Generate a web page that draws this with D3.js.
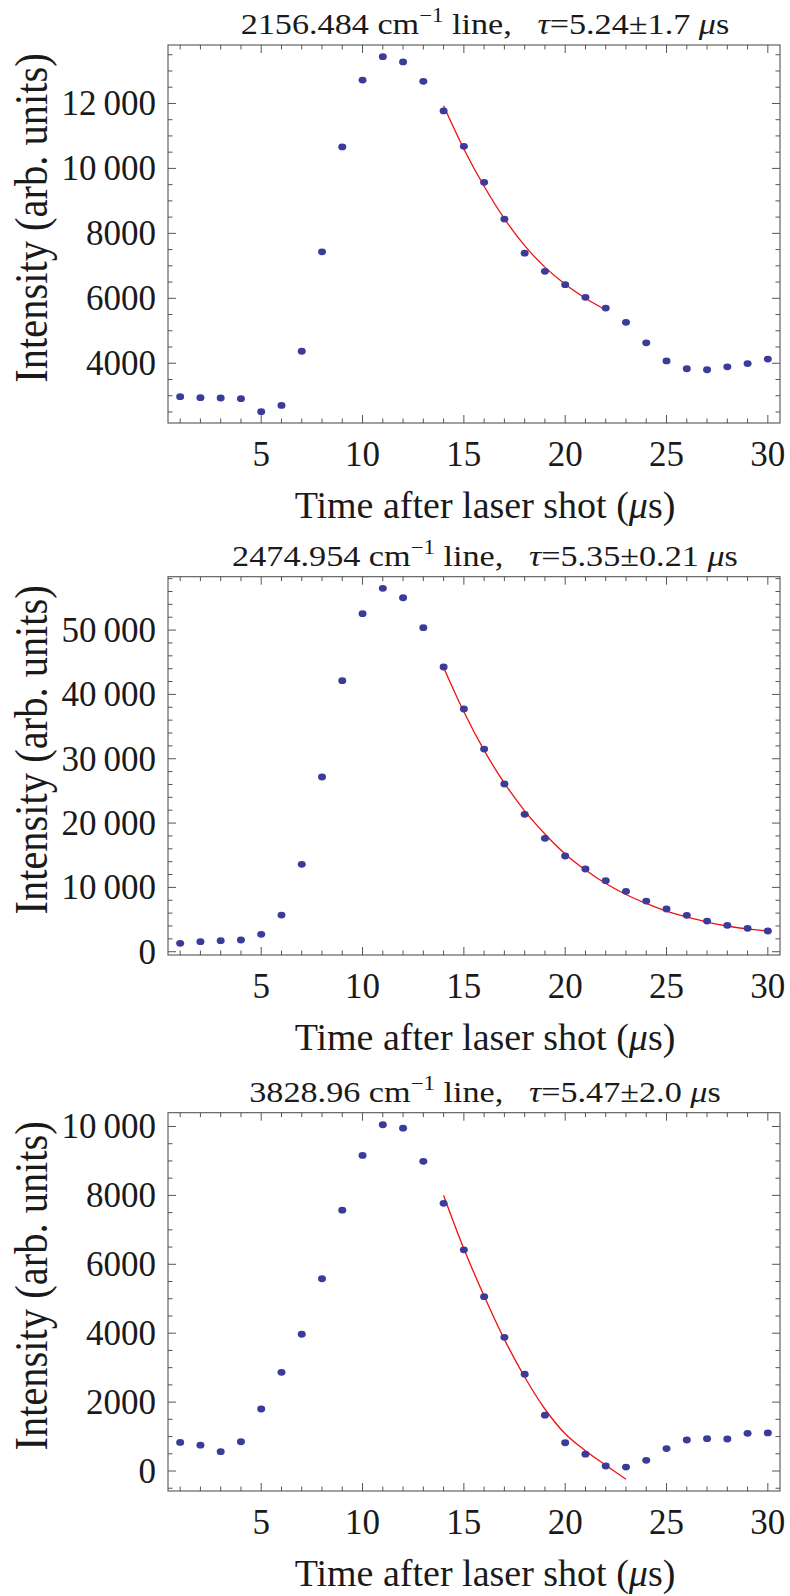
<!DOCTYPE html>
<html>
<head>
<meta charset="utf-8">
<script src="https://cdn.jsdelivr.net/npm/d3@7/dist/d3.min.js"></script>
<style>
  html, body { margin: 0; padding: 0; background: #fff; }
  svg { display: block; }
  text { font-family: "Liberation Serif", "Times New Roman", serif; fill: #1a1a1a; }
</style>
</head>
<body>
<svg id="chart" width="790" height="1596"></svg>
<script>
// ---------------- DATA ----------------
const times = [1,2,3,4,5,6,7,8,9,10,11,12,13,14,15,16,17,18,19,20,21,22,23,24,25,26,27,28,29,30];

const line2156 = [2970,2940,2930,2910,2510,2700,4370,7430,10660,12720,13440,13280,12680,11770,
                  10680,9570,8440,7390,6830,6420,6030,5700,5260,4630,4070,3830,3800,3890,3990,4130];
const fit2156T = [14,15,16,17,18,19,20,21,22];
const fit2156V = [11930,10600,9450,8450,7620,6960,6430,6000,5640];

const line2474 = [1300,1560,1710,1820,2700,5700,13580,27160,42130,52550,56490,55030,50370,44260,
                  37730,31510,26070,21360,17630,14880,12860,11040,9390,7880,6640,5660,4770,4100,3630,3220];
const fit2474T = [14,15,16,17,18,19,20,21,22,23,24,25,26,27,28,29,30];
const fit2474V = [44200,37300,31300,26200,21900,18300,15200,12700,10600,8900,7500,6300,5400,4600,4000,3550,3200];

const line3828 = [830,750,560,850,1800,2865,3970,5580,7570,9160,10050,9950,8990,7770,
                  6420,5060,3880,2810,1620,820,490,145,115,310,650,900,940,930,1095,1105];
const fit3828T = [14,15,16,17,18,19,20,21,22,23];
const fit3828V = [8000,6450,5080,3820,2730,1800,1080,590,170,-240];

const xMajorTicks = [5,10,15,20,25,30];
const xMinorTicks = times;

const yTicks2156 = [4000,6000,8000,10000,12000];
const yTicks2474 = [0,10000,20000,30000,40000,50000];
const yTicks3828 = [0,2000,4000,6000,8000,10000];

const titles = [
  {wn: "2156.484", tau: "5.24±1.7"},
  {wn: "2474.954", tau: "5.35±0.21"},
  {wn: "3828.96",  tau: "5.47±2.0"}
];
const yLabel = "Intensity (arb. units)";
const xLabel = "Time after laser shot (";

// ---------------- LAYOUT ----------------
const left = 168, right = 780;
const labelCenter = 485;
const panels = [
  {top: 45,    bottom: 423,  domain: [2160, 13800],  values: line2156, fitT: fit2156T, fitV: fit2156V, ticks: yTicks2156, minor: 500,  title: titles[0]},
  {top: 576.7, bottom: 955,  domain: [-510, 58300],  values: line2474, fitT: fit2474T, fitV: fit2474V, ticks: yTicks2474, minor: 2000, title: titles[1]},
  {top: 1112.7,bottom: 1491, domain: [-580, 10400],  values: line3828, fitT: fit3828T, fitV: fit3828V, ticks: yTicks3828, minor: 500,  title: titles[2]}
];

const svg = d3.select("#chart");
const x = d3.scaleLinear().domain([0.4, 30.6]).range([left, right]);

function fmt(v) {
  if (Math.abs(v) >= 10000) {
    const s = String(v);
    return s.slice(0, s.length - 3) + "\u2009" + s.slice(s.length - 3);
  }
  return String(v);
}

panels.forEach(p => {
  const g = svg.append("g");
  const y = d3.scaleLinear().domain(p.domain).range([p.bottom, p.top]);
  const frameColor = "#555";
  const majLen = 8, minLen = 4.5;
  const majStep = p.ticks[1] - p.ticks[0];

  const tickG = g.append("g").attr("stroke", frameColor).attr("stroke-width", 1);
  const yMinor = d3.range(Math.ceil(p.domain[0] / p.minor) * p.minor, p.domain[1], p.minor);
  yMinor.forEach(v => {
    const L = (v % majStep === 0) ? majLen : minLen;
    const yy = y(v);
    tickG.append("line").attr("x1", left).attr("x2", left + L).attr("y1", yy).attr("y2", yy);
    tickG.append("line").attr("x1", right).attr("x2", right - L).attr("y1", yy).attr("y2", yy);
  });
  xMinorTicks.forEach(v => {
    const L = xMajorTicks.includes(v) ? majLen : minLen;
    const xx = x(v);
    tickG.append("line").attr("x1", xx).attr("x2", xx).attr("y1", p.bottom).attr("y2", p.bottom - L);
    tickG.append("line").attr("x1", xx).attr("x2", xx).attr("y1", p.top).attr("y2", p.top + L);
  });

  g.append("rect").attr("x", left).attr("y", p.top).attr("width", right - left).attr("height", p.bottom - p.top)
    .attr("fill", "none").attr("stroke", frameColor).attr("stroke-width", 1.1);

  p.ticks.forEach(v => {
    g.append("text").attr("x", 156).attr("y", y(v)).attr("dy", "0.34em")
      .attr("text-anchor", "end").attr("font-size", 35).text(fmt(v));
  });
  xMajorTicks.forEach(v => {
    g.append("text").attr("x", x(v)).attr("y", p.bottom + 43)
      .attr("text-anchor", "middle").attr("font-size", 35).text(v);
  });

  const fitData = p.fitT.map((t, i) => [t, p.fitV[i]]);
  g.append("path").datum(fitData)
    .attr("d", d3.line().x(d => x(d[0])).y(d => y(d[1])).curve(d3.curveMonotoneX))
    .attr("fill", "none").attr("stroke", "#ee1111").attr("stroke-width", 1.3);

  g.append("g").selectAll("ellipse").data(times.map((t, i) => [t, p.values[i]])).join("ellipse")
    .attr("cx", d => x(d[0])).attr("cy", d => y(d[1])).attr("rx", 4.0).attr("ry", 3.4)
    .attr("fill", "#3b3b99");

  // title (slightly stretched horizontally like the reference)
  const t = g.append("text")
    .attr("transform", `translate(${labelCenter},${p.top - 11}) scale(1.14,1)`)
    .attr("text-anchor", "middle")
    .attr("font-size", 30).attr("xml:space", "preserve").style("white-space", "pre");
  t.append("tspan").text(p.title.wn + " cm");
  t.append("tspan").attr("font-size", 20).attr("dy", -12).text("\u22121");
  t.append("tspan").attr("dy", 12).text(" line,   ");
  t.append("tspan").attr("font-style", "italic").text("\u03c4");
  t.append("tspan").text("=" + p.title.tau + " ");
  t.append("tspan").attr("font-style", "italic").text("\u03bc");
  t.append("tspan").text("s");

  const cy = (p.top + p.bottom) / 2 - 16;
  g.append("text").attr("transform", `translate(47,${cy}) scale(1.15,1) rotate(-90)`)
    .attr("text-anchor", "middle").attr("font-size", 40.5).text(yLabel);

  const xl = g.append("text").attr("x", labelCenter).attr("y", p.bottom + 95).attr("text-anchor", "middle")
    .attr("font-size", 38);
  xl.append("tspan").text(xLabel);
  xl.append("tspan").attr("font-style", "italic").text("\u03bc");
  xl.append("tspan").text("s)");
});
</script>
</body>
</html>
